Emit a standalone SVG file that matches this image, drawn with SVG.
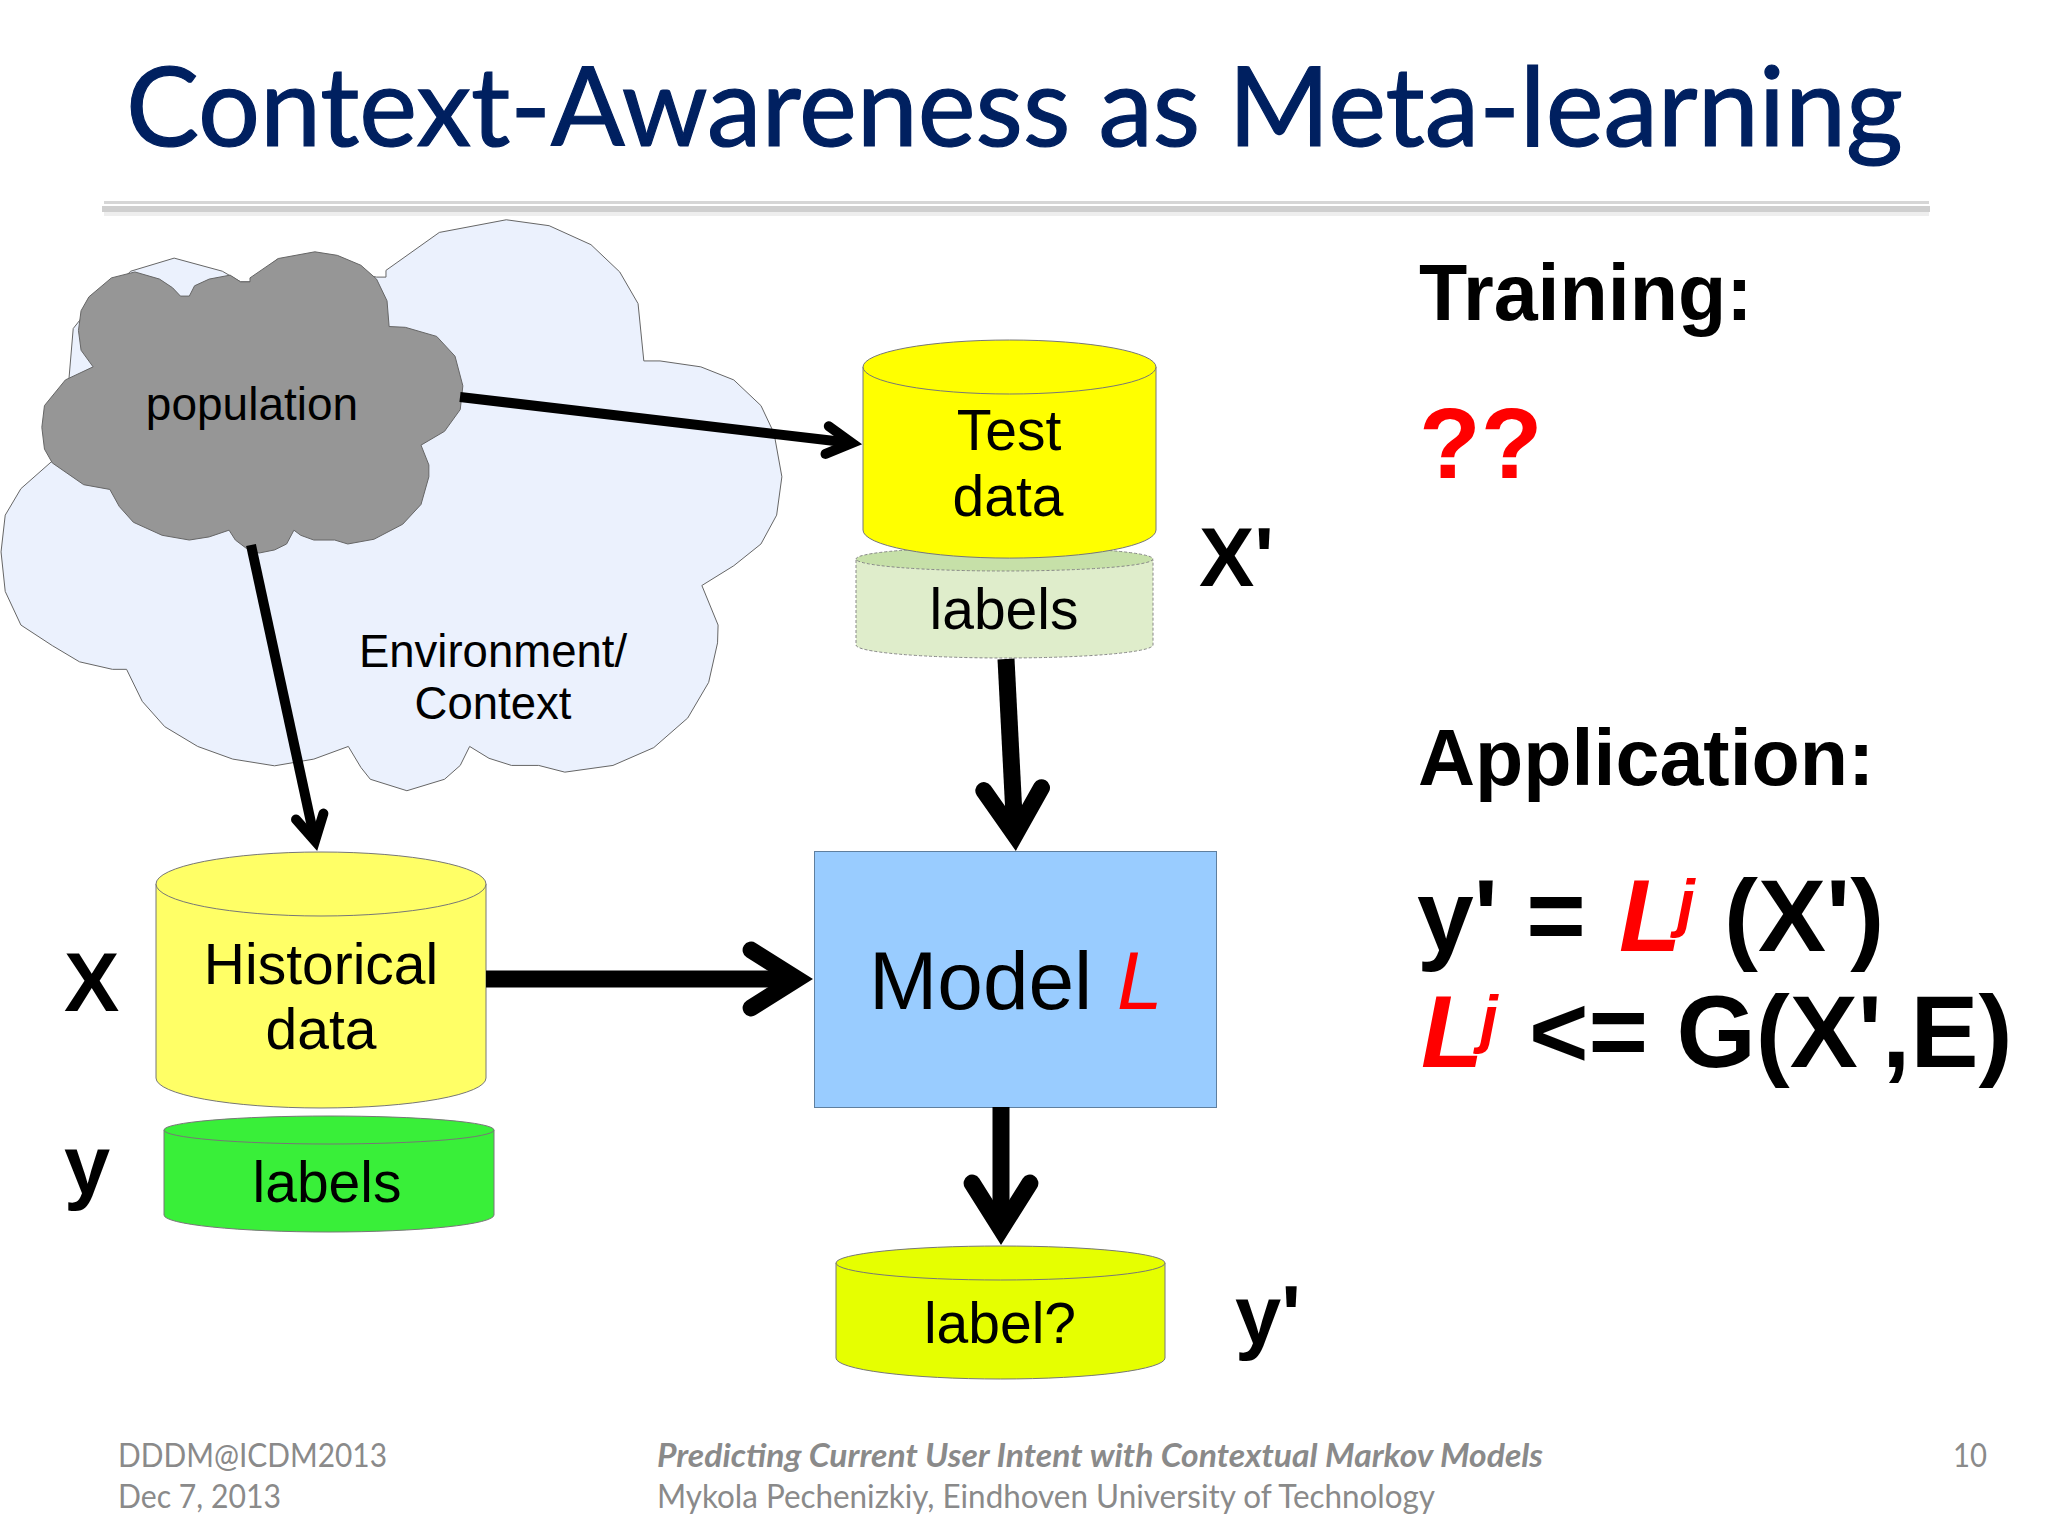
<svg xmlns="http://www.w3.org/2000/svg" width="2048" height="1536" viewBox="0 0 2048 1536">
<style>
.s{font-family:"Liberation Sans",Arial,sans-serif;fill:#000}
.m{text-anchor:middle}
.b{font-weight:bold}
.r{fill:#f00}
.i{font-style:italic}
.f{font-family:Lato,"Open Sans",sans-serif;fill:#8a8a8a;font-size:32px}
.c{fill:none;stroke:#000;stroke-linecap:butt}
.e{stroke:#666;stroke-width:1;vector-effect:non-scaling-stroke}
.cy{stroke:#777;stroke-width:1}
</style>
<defs>
<marker id="a" viewBox="-5 -3.5 7 7" refX="0" refY="0" markerWidth="7" markerHeight="7" orient="auto" markerUnits="strokeWidth">
<path d="M-2.7,-1.7 L0,0 L-2.7,1.7" fill="none" stroke="#000" stroke-width="1" stroke-linecap="round" stroke-linejoin="miter"/>
</marker>
<marker id="t" viewBox="-5 -3.5 7 7" refX="0" refY="0" markerWidth="7" markerHeight="7" orient="auto" markerUnits="strokeWidth">
<path d="M-2.5,-1.4 L0,0 L-2.5,1.4" fill="none" stroke="#000" stroke-width="1" stroke-linecap="round" stroke-linejoin="miter"/>
</marker>
</defs>
<rect width="2048" height="1536" fill="#fff"/>
<g id="title">
<text x="126" y="146" font-family="Lato,'Open Sans',sans-serif" font-size="111" fill="#002060" stroke="#002060" stroke-width="1.200" textLength="1777" lengthAdjust="spacingAndGlyphs">Context-Awareness as Meta-learning</text>
<rect x="104" y="201" width="1825" height="3" fill="#d6d6d6"/>
<rect x="102" y="206" width="1828" height="6" fill="#cfcfcf"/>
<rect x="104" y="212" width="1825" height="4" fill="#eeeeee"/>
</g>
<g id="environment">
<path class="e" fill="#ebf1fd" transform="translate(0,200) scale(0.523,0.3954)" d="M968,50 L1050,65 1130,113 1185,182 1220,262 1231,407 1262,407 1340,422 1403,455 1455,520 1480,590 1495,700 1485,797 1455,870 1403,925 1342,975 1373,1075 1372,1120 1355,1220 1315,1310 1250,1385 1172,1430 1080,1447 1030,1430 978,1430 935,1412 898,1382 880,1430 850,1465 778,1494 708,1465 690,1435 666,1382 600,1414 525,1431 445,1414 378,1382 315,1332 272,1268 242,1187 215,1187 152,1168 100,1127 40,1075 10,990 2,890 10,797 40,730 100,660 132,450 140,325 155,300 250,180 333,147 425,180 460,207 478,207 530,150 720,195 738,195 738,178 840,82 Z"/>
<text class="s m" font-size="45.500" x="493" y="667">Environment/</text>
<text class="s m" font-size="45.500" x="493" y="719">Context</text>
</g>
<g id="population">
<path class="e" fill="#969696" transform="translate(0,200) scale(0.523,0.3954)" d="M602,131 L645,140 690,165 720,200 740,255 744,320 775,322 835,345 870,395 885,470 880,530 850,585 805,620 820,670 820,700 805,770 770,820 715,858 665,870 640,860 600,860 575,848 562,835 548,870 525,885 495,893 470,880 450,860 438,835 400,852 362,860 310,848 255,815 228,775 210,732 160,720 100,665 85,630 80,575 85,520 125,455 178,422 155,380 150,330 155,280 170,245 213,197 258,182 305,200 330,222 345,243 362,243 372,217 400,200 440,190 460,207 478,207 478,197 532,148 Z"/>
<text class="s m" font-size="46" x="252" y="420">population</text>
</g>
<g id="test-labels">
<path d="M856,560 V645 A148.5,13 0 0 0 1153,645 V560 Z" fill="#dfedcb" stroke="#888" stroke-width="1" stroke-dasharray="3 2"/>
<ellipse cx="1004.500" cy="559" rx="148.500" ry="12" fill="#c6e0a8" stroke="#888" stroke-width="1" stroke-dasharray="3 2"/>
<text class="s m" font-size="57" x="1004" y="629">labels</text>
</g>
<g id="test-data">
<path class="cy" d="M863,367 V530 A146,28 0 0 0 1156,530 V367 Z" fill="#ff0"/>
<ellipse class="cy" cx="1009.500" cy="367" rx="146.500" ry="27" fill="#ff0"/>
<text class="s m" font-size="57" x="1009" y="450">Test</text>
<text class="s m" font-size="57" x="1008" y="516">data</text>
</g>
<g id="historical-data">
<path class="cy" d="M156,884 V1078 A165,30 0 0 0 486,1078 V884 Z" fill="#ff6"/>
<ellipse class="cy" cx="321" cy="884" rx="165" ry="32" fill="#ff6"/>
<text class="s m" font-size="57" x="321" y="984">Historical</text>
<text class="s m" font-size="57" x="321" y="1049">data</text>
</g>
<g id="historical-labels">
<path class="cy" d="M164,1130 V1215 A165,17 0 0 0 494,1215 V1130 Z" fill="#39ef39"/>
<ellipse class="cy" cx="329" cy="1130" rx="165" ry="14" fill="#39ef39"/>
<text class="s m" font-size="57" x="327" y="1202">labels</text>
</g>
<g id="model">
<rect x="814.500" y="851.500" width="402" height="256" fill="#9cf" stroke="#5f7f9f" stroke-width="1"/>
<text class="s" font-size="82" x="869" y="1009">Model</text>
<text class="s r i" font-size="82" x="1117" y="1009">L</text>
</g>
<g id="label-output">
<path class="cy" d="M836,1263 V1358 A164.500,21 0 0 0 1165,1358 V1263 Z" fill="#e6ff00"/>
<ellipse class="cy" cx="1000.500" cy="1263" rx="164.500" ry="17" fill="#e6ff00"/>
<text class="s m" font-size="57" x="1000" y="1343">label?</text>
</g>
<g id="connectors">
<path class="c" stroke-width="10" marker-end="url(#t)" d="M460,397 L852,443"/>
<path class="c" stroke-width="10" marker-end="url(#t)" d="M251,545 L315,841"/>
<path class="c" stroke-width="17" marker-end="url(#a)" d="M1006,659 L1015,835"/>
<path class="c" stroke-width="17" marker-end="url(#a)" d="M486,979 L797,979"/>
<path class="c" stroke-width="17" marker-end="url(#a)" d="M1001,1107 L1001,1229"/>
</g>
<g id="side-labels">
<text class="s b" font-size="83" x="1199" y="586">X'</text>
<text class="s b" font-size="83" x="64" y="1011">X</text>
<text class="s b" font-size="83" x="64" y="1194">y</text>
<text class="s b" font-size="83" x="1235" y="1344">y'</text>
</g>
<g id="notes">
<text class="s b" font-size="79" x="1419" y="320">Training:</text>
<text class="s b r" font-size="101" x="1419" y="478">??</text>
<text class="s b" font-size="79" x="1418" y="785">Application:</text>
<text class="s b" font-size="102" x="1417" y="951">y' = <tspan class="i r" x="1619">L</tspan><tspan class="i r" font-size="64" x="1677" y="925">j</tspan><tspan x="1724" y="951">(X')</tspan></text>
<text class="s b" font-size="102" y="1067" x="1421"><tspan class="i r">L</tspan><tspan class="i r" font-size="64" x="1480" y="1041">j</tspan><tspan x="1529" y="1067">&lt;= G(X',E)</tspan></text>
</g>
<g id="footer">
<text class="f" x="118" y="1467" textLength="269" lengthAdjust="spacingAndGlyphs">DDDM@ICDM2013</text>
<text class="f" x="118" y="1508" textLength="163" lengthAdjust="spacingAndGlyphs">Dec 7, 2013</text>
<text class="f" x="657" y="1467" font-weight="bold" font-style="italic" textLength="886" lengthAdjust="spacingAndGlyphs">Predicting Current User Intent with Contextual Markov Models</text>
<text class="f" x="657" y="1508" textLength="778" lengthAdjust="spacingAndGlyphs">Mykola Pechenizkiy, Eindhoven University of Technology</text>
<text class="f" x="1953" y="1467" textLength="34" lengthAdjust="spacingAndGlyphs">10</text>
</g>
</svg>
